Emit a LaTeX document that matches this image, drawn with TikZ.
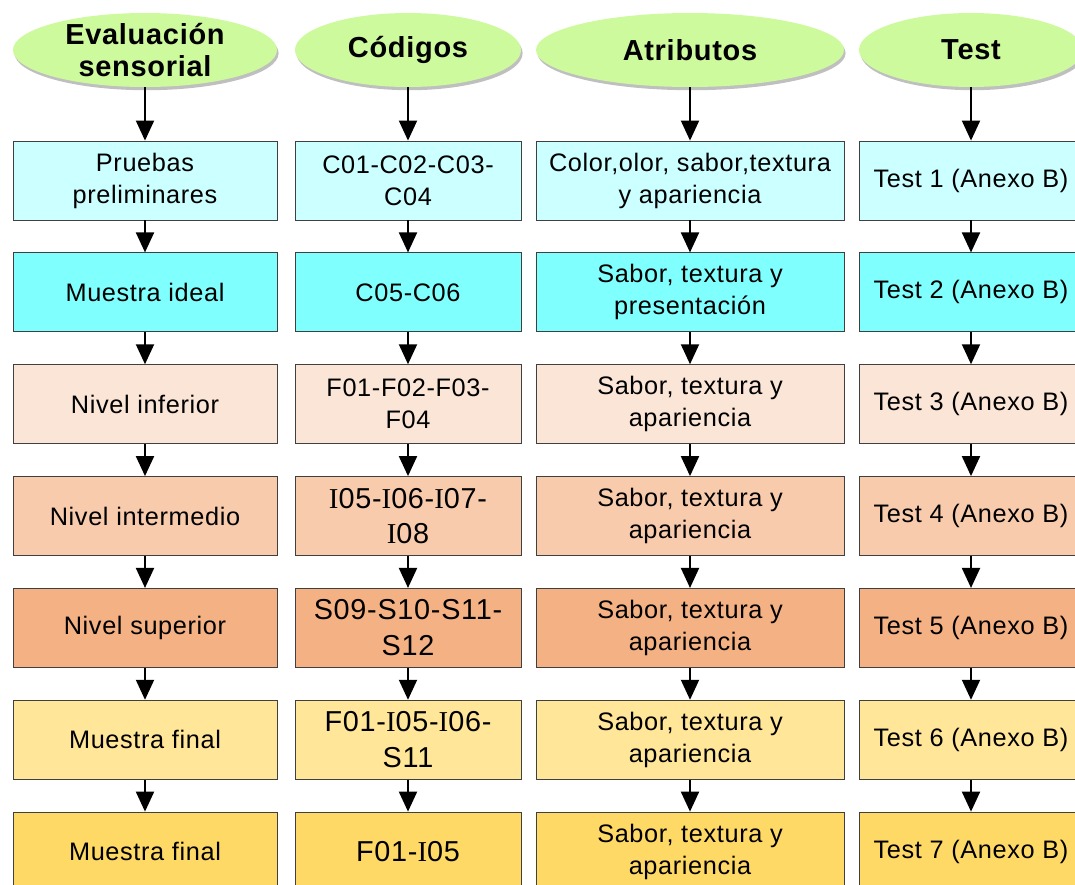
\documentclass[tikz,border=0pt]{standalone}
\usepackage{fontspec}
\setmainfont{Liberation Sans}[LetterSpace=2.5]
\newfontfamily\romana{Liberation Serif}
\usepackage{tikz}
\usetikzlibrary{shapes.geometric}
\usetikzlibrary{arrows.meta}
\usetikzlibrary{shadows}
\definecolor{verdecab}{RGB}{206,250,158}
\definecolor{fila1}{RGB}{204,255,255}
\definecolor{fila2}{RGB}{128,255,255}
\definecolor{fila3}{RGB}{251,229,214}
\definecolor{fila4}{RGB}{248,203,173}
\definecolor{fila5}{RGB}{244,177,131}
\definecolor{fila6}{RGB}{255,230,153}
\definecolor{fila7}{RGB}{255,217,102}
\tikzset{cabecera/.style={ellipse, fill=verdecab, minimum height=1.85cm, inner xsep=0pt, inner ysep=-0.1cm, align=center,
    font=\fontsize{20.6}{22.8}\selectfont\bfseries,
    drop shadow={shadow xshift=0.04cm, shadow yshift=-0.08cm, fill=black, opacity=0.25}}}
\tikzset{caja/.style={draw=black!75, line width=0.6pt, fill=#1, minimum height=1.975cm, inner sep=0pt, align=center,
    font=\fontsize{18}{22.8}\selectfont}}
\tikzset{grande/.style={font=\fontsize{20.5}{25.5}\selectfont}}
\tikzset{flecha/.style={line width=1.4pt, -{Triangle[width=0.45cm,length=0.5cm]}}}
\tikzset{colE/.style={minimum width=6.6cm}, colC/.style={minimum width=5.65cm},
    colA/.style={minimum width=7.7cm}, colT/.style={minimum width=5.6cm}}

\begin{document}
\begin{tikzpicture}
    \useasboundingbox (-3.625,1.25) rectangle (23.25,-20.85);

    \node[cabecera, colE] at (0,0) (he){Evaluación\\sensorial};
    \node[cabecera, colC] at ([xshift = 6.575cm]he) (hc){Códigos};
    \node[cabecera, colA] at ([xshift = 13.625cm]he) (ha){Atributos};
    \node[cabecera, colT] at ([xshift = 20.65cm]he) (ht){Test};

    % evaluacion sensorial
    \node[caja=fila1, colE] at ([yshift = -3.2625cm]he) (e1){Pruebas\\preliminares};
    \node[caja=fila2, colE] at ([yshift = -2.796cm]e1) (e2){Muestra ideal};
    \node[caja=fila3, colE] at ([yshift = -2.796cm]e2) (e3){Nivel inferior};
    \node[caja=fila4, colE] at ([yshift = -2.796cm]e3) (e4){Nivel intermedio};
    \node[caja=fila5, colE] at ([yshift = -2.796cm]e4) (e5){Nivel superior};
    \node[caja=fila6, colE] at ([yshift = -2.796cm]e5) (e6){Muestra final};
    \node[caja=fila7, colE] at ([yshift = -2.796cm]e6) (e7){Muestra final};

    % codigos
    \node[caja=fila1, colC] at ([yshift = -3.2625cm]hc) (c1){C01-C02-C03-\\C04};
    \node[caja=fila2, colC] at ([yshift = -2.796cm]c1) (c2){C05-C06};
    \node[caja=fila3, colC] at ([yshift = -2.796cm]c2) (c3){F01-F02-F03-\\F04};
    \node[caja=fila4, colC, grande] at ([yshift = -2.796cm]c3) (c4){{\romana I}05-{\romana I}06-{\romana I}07-\\{\romana I}08};
    \node[caja=fila5, colC, grande] at ([yshift = -2.796cm]c4) (c5){S09-S10-S11-\\S12};
    \node[caja=fila6, colC, grande] at ([yshift = -2.796cm]c5) (c6){F01-{\romana I}05-{\romana I}06-\\S11};
    \node[caja=fila7, colC, grande] at ([yshift = -2.796cm]c6) (c7){F01-{\romana I}05};

    % atributos
    \node[caja=fila1, colA] at ([yshift = -3.2625cm]ha) (a1){Color,olor, sabor,textura\\y apariencia};
    \node[caja=fila2, colA] at ([yshift = -2.796cm]a1) (a2){Sabor, textura y\\presentación};
    \node[caja=fila3, colA] at ([yshift = -2.796cm]a2) (a3){Sabor, textura y\\apariencia};
    \node[caja=fila4, colA] at ([yshift = -2.796cm]a3) (a4){Sabor, textura y\\apariencia};
    \node[caja=fila5, colA] at ([yshift = -2.796cm]a4) (a5){Sabor, textura y\\apariencia};
    \node[caja=fila6, colA] at ([yshift = -2.796cm]a5) (a6){Sabor, textura y\\apariencia};
    \node[caja=fila7, colA] at ([yshift = -2.796cm]a6) (a7){Sabor, textura y\\apariencia};

    % test
    \node[caja=fila1, colT] at ([yshift = -3.2625cm]ht) (t1){Test 1 (Anexo B)};
    \node[caja=fila2, colT] at ([yshift = -2.796cm]t1) (t2){Test 2 (Anexo B)};
    \node[caja=fila3, colT] at ([yshift = -2.796cm]t2) (t3){Test 3 (Anexo B)};
    \node[caja=fila4, colT] at ([yshift = -2.796cm]t3) (t4){Test 4 (Anexo B)};
    \node[caja=fila5, colT] at ([yshift = -2.796cm]t4) (t5){Test 5 (Anexo B)};
    \node[caja=fila6, colT] at ([yshift = -2.796cm]t5) (t6){Test 6 (Anexo B)};
    \node[caja=fila7, colT] at ([yshift = -2.796cm]t6) (t7){Test 7 (Anexo B)};

    \draw[flecha] (he) -- (e1);
    \draw[flecha] (e1) -- (e2);
    \draw[flecha] (e2) -- (e3);
    \draw[flecha] (e3) -- (e4);
    \draw[flecha] (e4) -- (e5);
    \draw[flecha] (e5) -- (e6);
    \draw[flecha] (e6) -- (e7);

    \draw[flecha] (hc) -- (c1);
    \draw[flecha] (c1) -- (c2);
    \draw[flecha] (c2) -- (c3);
    \draw[flecha] (c3) -- (c4);
    \draw[flecha] (c4) -- (c5);
    \draw[flecha] (c5) -- (c6);
    \draw[flecha] (c6) -- (c7);

    \draw[flecha] (ha) -- (a1);
    \draw[flecha] (a1) -- (a2);
    \draw[flecha] (a2) -- (a3);
    \draw[flecha] (a3) -- (a4);
    \draw[flecha] (a4) -- (a5);
    \draw[flecha] (a5) -- (a6);
    \draw[flecha] (a6) -- (a7);

    \draw[flecha] (ht) -- (t1);
    \draw[flecha] (t1) -- (t2);
    \draw[flecha] (t2) -- (t3);
    \draw[flecha] (t3) -- (t4);
    \draw[flecha] (t4) -- (t5);
    \draw[flecha] (t5) -- (t6);
    \draw[flecha] (t6) -- (t7);
  \end{tikzpicture}
\end{document}
